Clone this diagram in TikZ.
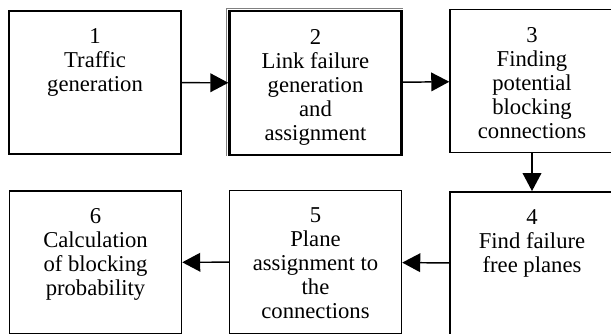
\documentclass[tikz,border=0pt]{standalone}
\usepackage{fontspec}
\setmainfont{Liberation Serif}
\usetikzlibrary{arrows.meta}

\newcommand{\steptext}[2][125pt]{\parbox[c][105pt][t]{#1}{\centering\vspace*{12pt}#2}}

\begin{document}
\begin{tikzpicture}[x=0.75pt, y=-0.75pt,
  stepbox/.style={draw, rectangle, line width=1.1pt, inner sep=1pt, minimum width=129pt, minimum height=107.5pt, font=\fontsize{17}{18}\selectfont},
  Pfeil/.style={line width=1.1pt, arrows = -{Triangle[length=13.5pt, width=14pt]}}]
\useasboundingbox (0,0) rectangle (611,334);
\clip (0,0) rectangle (611,334);
% upper row
\node[stepbox] (s1) at (95,82.5) {\steptext{1\\Traffic\\generation}};
\node[stepbox, line width=1.7pt] (s2) at (315.5,83) {\steptext{2\\Link failure\\generation\\and\\assignment}};
\node[stepbox, minimum width=123pt] (s3) at (532,81) {\steptext[119pt]{3\\Finding\\potential\\blocking\\connections}};
% lower row
\node[stepbox, minimum width=123pt] (s4) at (532,263.5) {\steptext[119pt]{4\\Find failure\\free planes}};
\node[stepbox] (s5) at (315.5,262) {\steptext{5\\Plane\\assignment to\\the\\connections}};
\node[stepbox] (s6) at (95.5,262.5) {\steptext{6\\Calculation\\of blocking\\probability}};
\draw[gray, line width=0.6pt] ([xshift=-1.7pt]s2.south west) |- ([yshift=1.7pt]s2.north east);
\draw[Pfeil] (s1) -- (s2);
\draw[Pfeil] (s2) -- (s3);
\draw[Pfeil] (s3) -- (s4);
\draw[Pfeil] (s4) -- (s5);
\draw[Pfeil] (s5) -- (s6);
\end{tikzpicture}
\end{document}
